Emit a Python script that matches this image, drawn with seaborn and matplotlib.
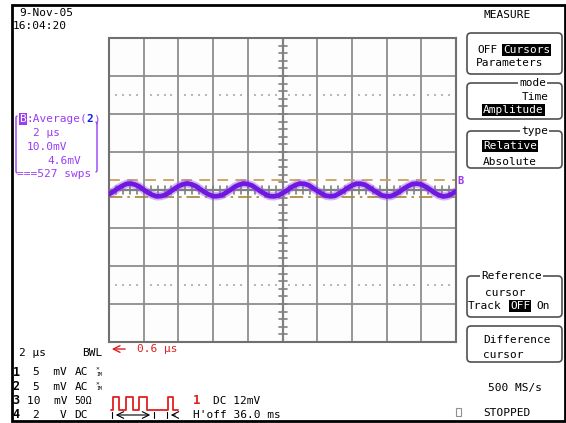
import numpy as np
import pandas as pd
import matplotlib
matplotlib.use("Agg")
import matplotlib.pyplot as plt
import seaborn as sns
from matplotlib.patches import FancyBboxPatch, Rectangle

# ---------------- data ----------------
time_us = [i * 0.25 for i in range(81)]          # sample instants, 0 .. 20 us
trace_mV = [-1.10, -0.45, 0.40, 1.05, 1.60, 1.72, 1.42, 0.90, 0.08, -0.70,
            -1.30, -1.68, -1.60, -1.28, -0.55, 0.25, 0.98, 1.48, 1.74, 1.50,
            1.03, 0.24, -0.55, -1.18, -1.65, -1.62, -1.38, -0.70, 0.02, 0.85,
            1.38, 1.72, 1.56, 1.16, 0.40, -0.40, -1.05, -1.60, -1.68, -1.47,
            -0.85, -0.14, 0.70, 1.30, 1.70, 1.62, 1.28, 0.55, -0.24, -0.92,
            -1.52, -1.66, -1.55, -0.98, -0.30, 0.55, 1.18, 1.65, 1.64, 1.38,
            0.70, -0.08, -0.80, -1.45, -1.66, -1.62, -1.10, -0.46, 0.40, 1.06,
            1.58, 1.68, 1.47, 0.85, 0.15, -0.70, -1.30, -1.70, -1.55, -1.05,
            -0.35]
cursor_ref_mV = 2.6       # dashed cursor
cursor_diff_mV = -1.8     # dash-dot cursor
x_divs = 10
y_divs = 8
time_per_div = 2.0        # us/div
volt_per_div = 10.0       # mV/div

W, H = 566, 423
sns.set_theme(style="white")
plt.rcParams["font.family"] = ["DejaVu Sans Mono", "DejaVu Sans"]

fig = plt.figure(figsize=(W / 100, H / 100), dpi=100, facecolor="white")

# ---------------- graticule axes ----------------
ax = fig.add_axes([109 / W, 1 - 342 / H, 347 / W, 304 / H])
ax.set_facecolor("#fdfdfd")
xmax = x_divs * time_per_div
ymax = y_divs / 2 * volt_per_div
ax.set_xlim(0, xmax)
ax.set_ylim(-ymax, ymax)
ax.set_xticks(np.arange(0, xmax + 0.01, time_per_div))
ax.set_yticks(np.arange(-ymax, ymax + 0.01, volt_per_div))
ax.tick_params(length=0, labelbottom=False, labelleft=False)
ax.grid(True, color="#8e8e8e", lw=1.3)
for s in ax.spines.values():
    s.set_color("#707070")
    s.set_linewidth(1.5)

gcol = "#808080"
ax.axvline(xmax / 2, color=gcol, lw=1.6, zorder=1)
ax.axhline(0, color=gcol, lw=1.6, zorder=1)
# minor tick marks on centre cross
tx = 4 / (347 / xmax)
ty = 4 / (304 / (2 * ymax))
for k in range(y_divs * 5 + 1):
    yv = -ymax + k * volt_per_div / 5
    ax.plot([xmax / 2 - tx, xmax / 2 + tx], [yv, yv], color=gcol, lw=1.2, zorder=1)
for k in range(x_divs * 5 + 1):
    xv = k * time_per_div / 5
    ax.plot([xv, xv], [-ty, ty], color=gcol, lw=1.2, zorder=1)
# dotted rows
dots_x = [d * time_per_div + f * time_per_div / 5 for d in range(x_divs) for f in (1, 2, 3, 4)]
for yv in (2.5 * volt_per_div, -2.5 * volt_per_div):
    ax.scatter(dots_x, [yv] * len(dots_x), marker="s", s=1.5, color="#b8b8b8", lw=0, zorder=1)

# cursors
ax.axhline(cursor_ref_mV, color="#c9a060", lw=1.3, ls=(0, (6, 4)), zorder=2)
ax.axhline(cursor_diff_mV, color="#a88530", lw=1.2, ls=(0, (8, 3, 1.5, 3)), zorder=2)

# trace
df = pd.DataFrame({"t": time_us, "v": trace_mV})
sns.lineplot(data=df, x="t", y="v", ax=ax, color="#9b5cf0", lw=6.0, alpha=0.45, zorder=3)
sns.lineplot(data=df, x="t", y="v", ax=ax, color="#7018e0", lw=3.4, zorder=4)
ax.set_xlabel("")
ax.set_ylabel("")

# ---------------- overlay (pixel coordinates) ----------------
ov = fig.add_axes([0, 0, 1, 1], zorder=5)
ov.set_xlim(0, W)
ov.set_ylim(H, 0)
ov.axis("off")
ov.patch.set_alpha(0)

FS = 8


def T(x, y, s, color="black", size=FS, **kw):
    ov.text(x, y, s, color=color, fontsize=size, va="center", ha="left", **kw)


def INV(x, y, s, fc="black"):
    ov.text(x, y, s, color="white", fontsize=FS, va="center", ha="left",
            bbox=dict(boxstyle="square,pad=0.08", fc=fc, ec="none"))


def RB(x0, y0, x1, y1):
    ov.add_patch(FancyBboxPatch((x0, y0), x1 - x0, y1 - y0,
                                boxstyle="round,pad=0,rounding_size=4",
                                fill=False, ec="#505050", lw=1.2))


def TITLE(x, y, s):
    ov.text(x, y, s, color="black", fontsize=FS, va="center", ha="left",
            bbox=dict(boxstyle="square,pad=0.1", fc="white", ec="none"))


# outer frame
ov.add_patch(Rectangle((12, 5), 553, 416, fill=False, ec="black", lw=2))

# date / time
T(19, 13, "9-Nov-05")
T(13, 26, "16:04:20")

# channel B info box
purple = "#9a3cf5"
INV(19.5, 119, "B", fc=purple)
T(26, 119, ":Average(", color=purple)
T(86.5, 119, "2", color="#1020e0", weight="bold")
T(93, 119, ")", color=purple)
T(33, 133, "2 µs", color=purple)
T(27, 147, "10.0mV", color=purple)
T(47, 161, "4.6mV", color=purple)
T(17, 174, "===527 swps", color=purple)
ov.plot([17, 16, 16, 17], [116, 117, 172, 173], color=purple, lw=1)
ov.plot([96, 97, 97, 96], [122, 123, 171, 172], color=purple, lw=1)

# B marker at right of grid
T(457, 181, "B", color=purple, size=7.5, weight="bold")

# bottom-left info
T(19, 353, "2 µs")
T(82, 353, "BWL")
ov.annotate("", xy=(109, 349), xytext=(128, 349),
            arrowprops=dict(arrowstyle="->", color="#e02020", lw=1))
T(137, 349, "0.6 µs", color="#e02020")

rows = [372, 386.5, 401, 415]
for i, y in enumerate(rows):
    T(12.5, y, str(i + 1), weight="bold", size=8.5)
T(33, rows[0], "5  mV")
T(75, rows[0], "AC")
T(33, rows[1], "5  mV")
T(75, rows[1], "AC")
for y in rows[:2]:
    T(96, y - 3, "×", size=4.5)
    T(96, y + 2, "1M", size=3.5)
T(27, rows[2], "10  mV")
T(74, rows[2], "50Ω", size=7)
T(33, rows[3], "2   V")
T(74, rows[3], "DC")

# trigger pulse symbol
red = "#e02020"
px = [111, 113, 113, 119, 119, 126, 126, 133, 133, 139, 139, 147, 147, 168, 168, 173, 173, 178]
py = [410, 410, 397, 397, 410, 410, 397, 397, 410, 410, 397, 397, 410, 410, 397, 397, 410, 410]
ov.plot(px, py, color=red, lw=1.3)
ov.plot([112, 112], [412, 418], color="black", lw=0.8)
ov.plot([154, 154], [412, 418], color="black", lw=0.8)
ov.annotate("", xy=(153, 415), xytext=(113, 415),
            arrowprops=dict(arrowstyle="<->", color="black", lw=0.8))
ov.plot([167, 167], [412, 418], color="black", lw=0.8)
ov.annotate("", xy=(168, 415), xytext=(178, 415),
            arrowprops=dict(arrowstyle="->", color="black", lw=0.8))
T(193, 401, "1", color=red, weight="bold", size=9)
T(213, 401, "DC 12mV")
T(193, 415, "H'off 36.0 ms")

# bottom right
T(488, 388, "500 MS/s")
ov.add_patch(Rectangle((456, 408), 5, 8, fill=False, ec="#909090", lw=0.8))
T(483, 413, "STOPPED")

# right menu
T(483, 15, "MEASURE")
RB(467, 33, 562, 74)
T(477, 50, "OFF")
INV(503, 50, "Cursors")
T(476, 63, "Parameters")

RB(467, 83, 562, 119)
TITLE(519, 83, "mode")
T(522, 97, "Time")
INV(483, 110, "Amplitude")

RB(467, 131, 562, 168)
TITLE(521, 131, "type")
INV(483, 146, "Relative")
T(483, 162, "Absolute")

RB(467, 276, 562, 317)
TITLE(481, 276, "Reference")
T(485, 293, "cursor")
T(468, 306, "Track")
INV(510, 306, "OFF")
T(536, 306, "On")

RB(467, 326, 562, 362)
T(483, 340, "Difference")
T(483, 355, "cursor")

fig.savefig("out.png", dpi=100, facecolor="white")
